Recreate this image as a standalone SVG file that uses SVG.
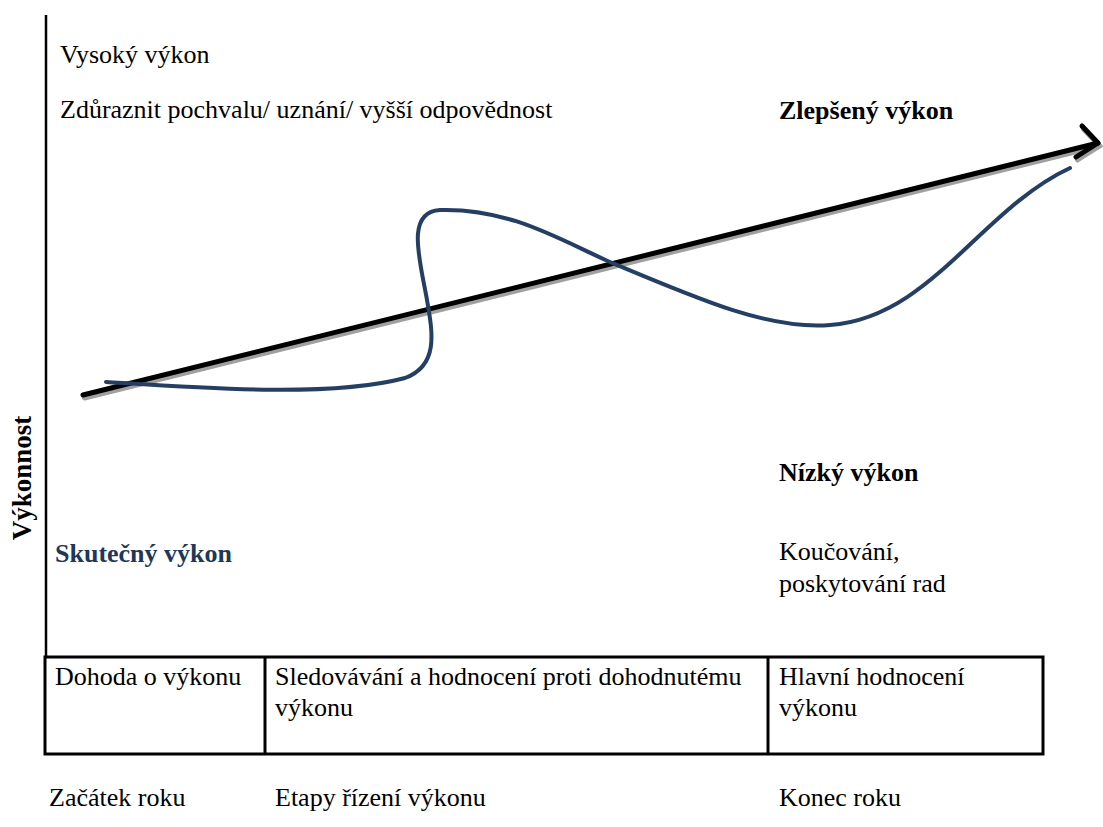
<svg xmlns="http://www.w3.org/2000/svg" width="1103" height="827" viewBox="0 0 1103 827">
<style>
text{font-family:"Liberation Serif","Times New Roman",serif;font-size:26px;fill:#000}
.b{font-weight:bold}
.ln{fill:none;stroke:#000;stroke-width:3}
</style>
<rect width="1103" height="827" fill="#fff"/>
<g id="axis"><line x1="46" y1="15" x2="46" y2="658" stroke="#000" stroke-width="2.5"/></g>
<g id="ylabel"><text class="b" transform="translate(31,478) rotate(-90)" text-anchor="middle" style="font-size:27px">Výkonnost</text></g>
<g id="labels">
<text x="60" y="63">Vysoký výkon</text>
<text x="60" y="118">Zdůraznit pochvalu/ uznání/ vyšší odpovědnost</text>
<text class="b" x="779" y="119">Zlepšený výkon</text>
<text class="b" x="779" y="481">Nízký výkon</text>
<text class="b" x="55" y="562" style="fill:#1f3858">Skutečný výkon</text>
<text x="779" y="560">Koučování,</text>
<text x="779" y="592">poskytování rad</text>
<text x="49" y="806">Začátek roku</text>
<text x="275" y="806">Etapy řízení výkonu</text>
<text x="779" y="806">Konec roku</text>
</g>
<g id="table">
<rect x="45" y="657" width="998" height="97" class="ln"/>
<line x1="265" y1="657" x2="265" y2="754" class="ln"/>
<line x1="768" y1="657" x2="768" y2="754" class="ln"/>
<text x="55" y="685">Dohoda o výkonu</text>
<text x="275" y="685">Sledovávání a hodnocení proti dohodnutému</text>
<text x="275" y="716">výkonu</text>
<text x="779" y="685">Hlavní hodnocení</text>
<text x="779" y="716">výkonu</text>
</g>
<g id="connectors">
<g id="trend-shadow" transform="translate(1.5,3)" stroke="#a0a0a0" stroke-width="5" fill="none" stroke-linecap="round">
<line x1="83" y1="395" x2="1098" y2="143"/>
<polyline points="1082,126 1098,143 1076,157"/>
</g>
<g id="trend" stroke="#000" stroke-width="5" fill="none" stroke-linecap="round" stroke-linejoin="round">
<line x1="83" y1="395" x2="1098" y2="143"/>
<polyline points="1082,126 1098,143 1076,157"/>
</g>
<path id="actual" d="M106,382 C200,388 330,398 405,378 C440,365 432,330 427,300 C420,260 405,212 440,210 C510,208 560,240 610,262 C700,300 770,330 830,325 C930,318 980,210 1070,168" fill="none" stroke="#243f63" stroke-width="4" stroke-linecap="round"/>
</g>
</svg>
